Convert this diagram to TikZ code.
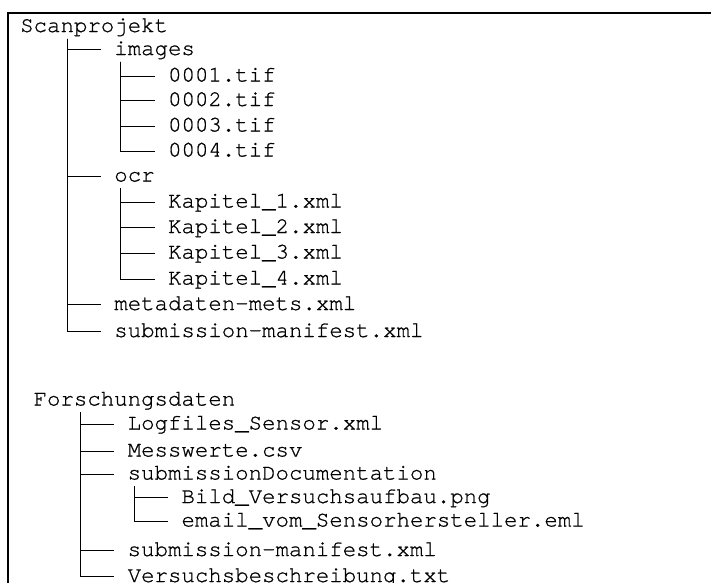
\documentclass[tikz,border=0pt]{standalone}
\usepackage{fontspec}
\newfontfamily\treefont[Ligatures=NoCommon, FakeBold=0.8]{TeX Gyre Cursor}

\tikzset{
  entry/.style={anchor=west, inner sep=0pt, text height=17.5pt, text depth=6.5pt,
    font=\treefont\fontsize{22.4}{25}\selectfont},
  branch/.style={line width=1pt},
}

\begin{document}
\begin{tikzpicture}[x=1pt, y=-1pt]
  \useasboundingbox (0,0) rectangle (711,582);
  % Frame
  \draw[line width=2.4pt] (8,584) |- (713,13);

  % First project
  \node[entry] (scan) at (20, 26.5) {Scanprojekt};
  \node[entry] (img) at (114.1, 49.5) {images};
  \node[entry] (tif1) at (167.9, 76) {0001.tif};
  \node[entry] (tif2) at (167.9, 100.5) {0002.tif};
  \node[entry] (tif3) at (167.9, 126) {0003.tif};
  \node[entry] (tif4) at (167.9, 151) {0004.tif};
  \node[entry] (ocr) at (114.1, 176) {ocr};
  \node[entry] (kap1) at (167.9, 202) {Kapitel\_1.xml};
  \node[entry] (kap2) at (167.9, 227.5) {Kapitel\_2.xml};
  \node[entry] (kap3) at (167.9, 253) {Kapitel\_3.xml};
  \node[entry] (kap4) at (167.9, 279) {Kapitel\_4.xml};
  \node[entry] (mets) at (114.1, 304.5) {metadaten-mets.xml};
  \node[entry] (manifA) at (114.1, 331.5) {submission-manifest.xml};

  % Second project
  \node[entry] (forsch) at (33.4, 400) {Forschungsdaten};
  \node[entry] (logs) at (127.5, 424) {Logfiles\_Sensor.xml};
  \node[entry] (mess) at (127.5, 451) {Messwerte.csv};
  \node[entry] (sdoc) at (127.5, 474) {submissionDocumentation};
  \node[entry] (bild) at (181.3, 497.5) {Bild\_Versuchsaufbau.png};
  \node[entry] (email) at (181.3, 521) {email\_vom\_Sensorhersteller.eml};
  \node[entry] (manifB) at (127.5, 550.5) {submission-manifest.xml};
  \node[entry] (versuch) at (127.5, 576.5) {Versuchsbeschreibung.txt};

  \draw[branch] ([xshift=47pt]scan.south west) |- ([xshift=-13.4pt]img.west);
  \draw[branch] ([xshift=47pt]scan.south west) |- ([xshift=-13.4pt]ocr.west);
  \draw[branch] ([xshift=47pt]scan.south west) |- ([xshift=-13.4pt]mets.west);
  \draw[branch] ([xshift=47pt]scan.south west) |- ([xshift=-13.4pt]manifA.west);

  \draw[branch] ([xshift=6.7pt]img.south west) |- ([xshift=-13.4pt]tif1.west);
  \draw[branch] ([xshift=6.7pt]img.south west) |- ([xshift=-13.4pt]tif2.west);
  \draw[branch] ([xshift=6.7pt]img.south west) |- ([xshift=-13.4pt]tif3.west);
  \draw[branch] ([xshift=6.7pt]img.south west) |- ([xshift=-13.4pt]tif4.west);

  \draw[branch] ([xshift=6.7pt]ocr.south west) |- ([xshift=-13.4pt]kap1.west);
  \draw[branch] ([xshift=6.7pt]ocr.south west) |- ([xshift=-13.4pt]kap2.west);
  \draw[branch] ([xshift=6.7pt]ocr.south west) |- ([xshift=-13.4pt]kap3.west);
  \draw[branch] ([xshift=6.7pt]ocr.south west) |- ([xshift=-13.4pt]kap4.west);

  \draw[branch] ([xshift=47pt]forsch.south west) |- ([xshift=-13.4pt]logs.west);
  \draw[branch] ([xshift=47pt]forsch.south west) |- ([xshift=-13.4pt]mess.west);
  \draw[branch] ([xshift=47pt]forsch.south west) |- ([xshift=-13.4pt]sdoc.west);
  \draw[branch] ([xshift=47pt]forsch.south west) |- ([xshift=-13.4pt]manifB.west);
  \draw[branch] ([xshift=47pt]forsch.south west) |- ([xshift=-13.4pt]versuch.west);

  \draw[branch] ([xshift=6.7pt]sdoc.south west) |- ([xshift=-13.4pt]bild.west);
  \draw[branch] ([xshift=6.7pt]sdoc.south west) |- ([xshift=-13.4pt]email.west);
\end{tikzpicture}
\end{document}
